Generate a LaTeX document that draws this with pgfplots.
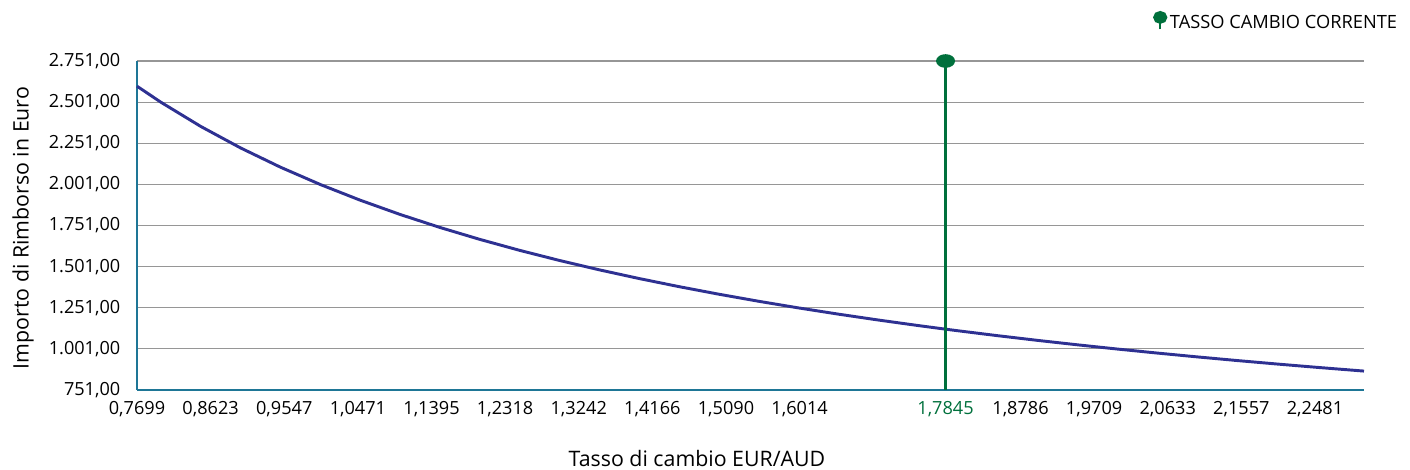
\documentclass[border=0pt]{standalone}
\usepackage{pgfplots}
\pgfplotsset{compat=1.18}
\usepackage{fontspec}
\setmainfont{Open Sans}
\definecolor{curveblue}{RGB}{46,49,146}
\definecolor{curgreen}{RGB}{0,112,60}
\definecolor{axteal}{RGB}{30,118,150}
\definecolor{gridgray}{RGB}{150,150,150}
\begin{document}
\begin{tikzpicture}
\useasboundingbox (-102.75pt,-60pt) rectangle (954.75pt,292.5pt);
\begin{axis}[
  at={(0pt,0pt)}, anchor=south west,
  scale only axis, width=920.25pt, height=246.75pt,
  xmin=0.7699, xmax=2.3096, ymin=751, ymax=2751,
  axis x line*=bottom, axis y line*=left,
  axis line style={axteal, line width=1.1pt},
  x axis line style={-}, y axis line style={-},
  major tick length=0pt,
  ymajorgrids, grid style={gridgray, line width=0.8pt},
  ytick={751,1001,1251,1501,1751,2001,2251,2501,2751},
  yticklabels={{751,00},{1.001,00},{1.251,00},{1.501,00},{1.751,00},{2.001,00},{2.251,00},{2.501,00},{2.751,00}},
  xtick={0.7699,0.8623,0.9547,1.0471,1.1395,1.2318,1.3242,1.4166,1.5090,1.6014,1.7845,1.8786,1.9709,2.0633,2.1557,2.2481},
  xticklabels={{0,7699},{0,8623},{0,9547},{1,0471},{1,1395},{1,2318},{1,3242},{1,4166},{1,5090},{1,6014},{\textcolor{curgreen}{1,7845}},{1,8786},{1,9709},{2,0633},{2,1557},{2,2481}},
  tick label style={font=\fontsize{13.6}{16}\selectfont},
  yticklabel style={xshift=-9pt},
  xticklabel style={yshift=-5pt},
  clip=false,
  legend style={at={(axis description cs:1.0293,1.1185)}, anchor=east, draw=none, fill=none,
    font=\fontsize{13.7}{16}\selectfont, inner sep=0pt},
]
\addplot[curveblue, line width=2.2pt, forget plot] coordinates {
(0.7699,2597.74) (0.80,2500.00) (0.85,2352.94) (0.90,2222.22) (0.95,2105.26)
(1.00,2000.00) (1.05,1904.76) (1.10,1818.18) (1.15,1739.13) (1.20,1666.67)
(1.25,1600.00) (1.30,1538.46) (1.35,1481.48) (1.40,1428.57) (1.45,1379.31)
(1.50,1333.33) (1.55,1290.32) (1.60,1250.00) (1.65,1212.12) (1.70,1176.47)
(1.75,1142.86) (1.7845,1120.76) (1.80,1111.11) (1.85,1081.08) (1.90,1052.63)
(1.95,1025.64) (2.00,1000.00) (2.05,975.61) (2.10,952.38) (2.15,930.23)
(2.20,909.09) (2.25,888.89) (2.3096,865.95)
};
\addplot[curgreen, line width=2.2pt, mark=*, mark indices={2},
  mark options={xscale=1.5, scale=2.0, fill=curgreen, draw=curgreen},
  legend image code/.code={
    \draw[curgreen, line width=1.6pt] (0.15em,-0.5em) -- (0.15em,0.3em);
    \fill[curgreen] (0.15em,0.4em) ellipse (0.42em and 0.37em);
  }] coordinates {(1.7845,751) (1.7845,2751)};
\addlegendentry{TASSO CAMBIO CORRENTE}
\end{axis}
\node[font=\fontsize{16}{19}\selectfont] at (420pt,-51.5pt) {Tasso di cambio EUR/AUD};
\node[font=\fontsize{16}{19}\selectfont, rotate=90] at (-85.5pt,121.5pt) {Importo di Rimborso in Euro};
\end{tikzpicture}
\end{document}
